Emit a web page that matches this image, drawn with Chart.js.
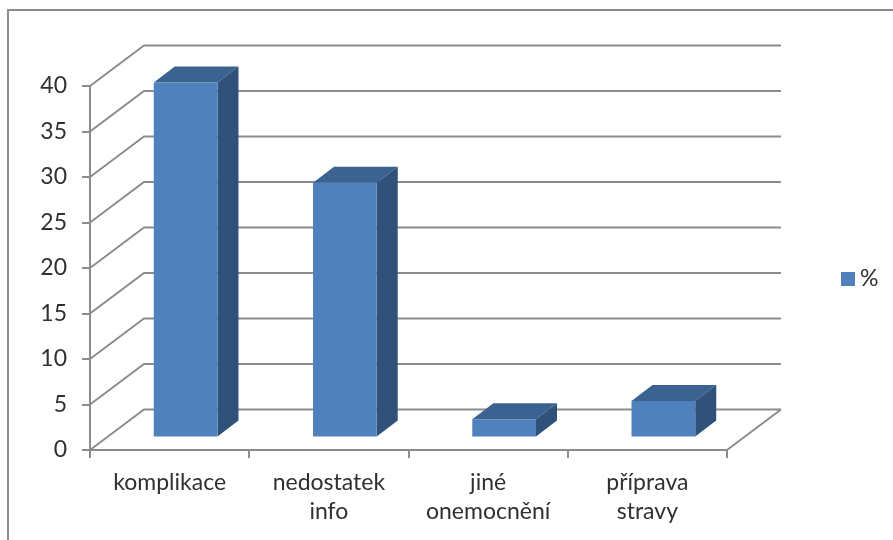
<!DOCTYPE html>
<html>
<head>
<meta charset="utf-8">
<title>Graf</title>
<script src="https://cdn.jsdelivr.net/npm/chart.js@4"></script>
<style>
    html, body { margin: 0; padding: 0; background: #fff; }
    canvas { display: block; }
</style>
</head>
<body>
<canvas id="chart" width="893" height="540"></canvas>
<script>
const categories = ['komplikace', ['nedostatek', 'info'], ['jiné', 'onemocnění'], ['příprava', 'stravy']];
const seriesName = '%';
const seriesValues = [39, 28, 2, 4];
const axisMax = 40;
const axisStep = 5;

const lineGray = '#8c8c8c';
const textColor = '#303030';
const labelFont = { family: 'Lato', size: 23 };

// fake 3D: the box depth, and how far bars stand off the front edge of the floor
const wall = { dx: 54, dy: -40.5 };
const bar = { dx: 21, dy: -16, shiftX: 16, shiftY: -12.5 };

function polygon(ctx, points, color) {
    ctx.fillStyle = color;
    ctx.beginPath();
    points.forEach(p => ctx.lineTo(p[0], p[1]));
    ctx.closePath();
    ctx.fill();
}

const box3d = {
    id: 'box3d',
    beforeDraw(chart) {
        // frame of the chart object, cut off on the right and bottom
        const ctx = chart.ctx;
        ctx.save();
        ctx.strokeStyle = lineGray;
        ctx.lineWidth = 2;
        ctx.beginPath();
        ctx.moveTo(8, 540);
        ctx.lineTo(8, 10);
        ctx.lineTo(893, 10);
        ctx.stroke();
        ctx.restore();
    },
    beforeDatasetsDraw(chart) {
        const ctx = chart.ctx;
        const { left, right, bottom } = chart.chartArea;
        const y = chart.scales.y;

        ctx.save();
        ctx.strokeStyle = lineGray;
        ctx.lineWidth = 2;
        y.ticks.forEach(t => {
            const py = y.getPixelForValue(t.value);
            ctx.beginPath();
            ctx.moveTo(left, py);
            ctx.lineTo(left + wall.dx, py + wall.dy);
            ctx.lineTo(right + wall.dx, py + wall.dy);
            ctx.stroke();
        });
        ctx.beginPath();
        ctx.moveTo(right, bottom);
        ctx.lineTo(right + wall.dx, bottom + wall.dy);
        ctx.stroke();

        // top and side faces of each bar
        chart.getDatasetMeta(0).data.forEach(el => {
            const x0 = el.x - el.width / 2 + bar.shiftX;
            const x1 = el.x + el.width / 2 + bar.shiftX;
            const top = el.y + bar.shiftY;
            const base = el.base + bar.shiftY;
            polygon(ctx, [[x0, top], [x0 + bar.dx, top + bar.dy], [x1 + bar.dx, top + bar.dy], [x1, top]], '#3b6291');
            polygon(ctx, [[x1, top], [x1 + bar.dx, top + bar.dy], [x1 + bar.dx, base + bar.dy], [x1, base]], '#305179');
        });
        ctx.restore();

        // front faces come from the bar elements, moved onto the floor
        ctx.save();
        ctx.translate(bar.shiftX, bar.shiftY);
    },
    afterDatasetsDraw(chart) {
        const ctx = chart.ctx;
        ctx.restore();

        // legend
        ctx.save();
        ctx.fillStyle = '#4f81bd';
        ctx.fillRect(841, 272, 14, 14);
        ctx.fillStyle = textColor;
        ctx.font = '23px Lato';
        ctx.textAlign = 'left';
        ctx.textBaseline = 'middle';
        ctx.fillText(chart.data.datasets[0].label, 860, 279);
        ctx.restore();
    }
};

new Chart(document.getElementById('chart').getContext('2d'), {
    type: 'bar',
    data: {
        labels: categories,
        datasets: [{
            label: seriesName,
            data: seriesValues,
            backgroundColor: '#4f81bd',
            borderWidth: 0,
            categoryPercentage: 1,
            barPercentage: 0.4
        }]
    },
    options: {
        responsive: false,
        animation: false,
        layout: {
            padding: { top: 86, right: 166, left: 0, bottom: 0 }
        },
        plugins: {
            legend: { display: false },
            tooltip: { enabled: false }
        },
        scales: {
            x: {
                afterFit: scale => { scale.height = 90; },
                border: { color: lineGray, width: 2 },
                grid: { drawOnChartArea: false, color: lineGray, lineWidth: 2, tickLength: 8 },
                ticks: {
                    color: textColor,
                    font: { ...labelFont, lineHeight: 1.26 },
                    padding: 10,
                    maxRotation: 0,
                    autoSkip: false
                }
            },
            y: {
                min: 0,
                max: axisMax,
                afterFit: scale => { scale.width = 90; },
                border: { color: lineGray, width: 2 },
                grid: { drawOnChartArea: false, color: lineGray, lineWidth: 2, tickLength: 8 },
                ticks: {
                    stepSize: axisStep,
                    color: textColor,
                    font: labelFont,
                    padding: 15
                }
            }
        }
    },
    plugins: [box3d]
});
</script>
</body>
</html>
